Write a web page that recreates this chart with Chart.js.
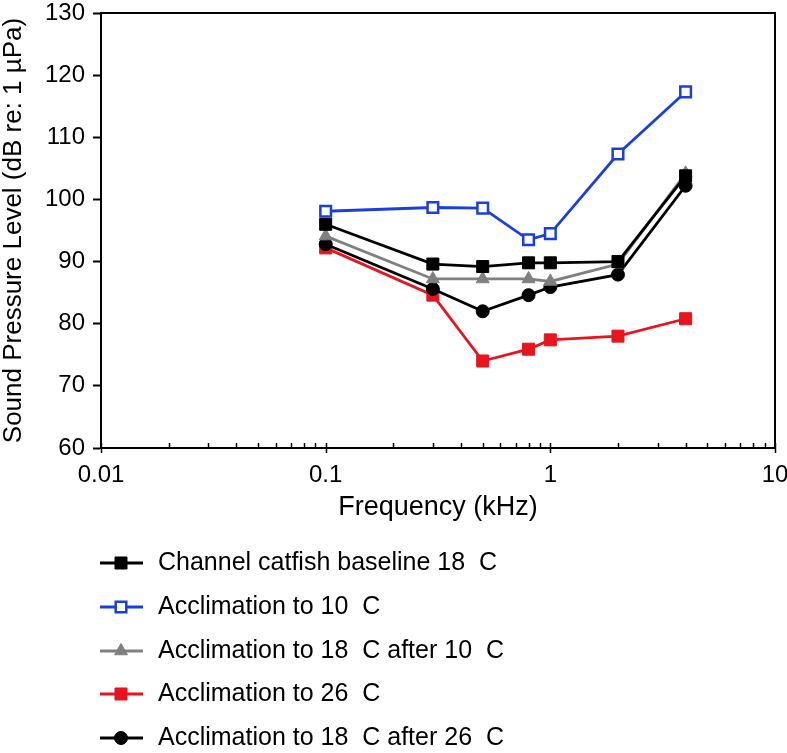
<!DOCTYPE html>
<html>
<head>
<meta charset="utf-8">
<script src="https://cdn.jsdelivr.net/npm/chart.js@4/dist/chart.umd.min.js"></script>
<style>
  html, body { margin: 0; padding: 0; background: #fff; }
  #wrap { width: 787px; height: 753px; }
</style>
</head>
<body>
<div id="wrap"><canvas id="chart"></canvas></div>
<script>
// frequencies (kHz)
const freqs = [0.1, 0.3, 0.5, 0.8, 1, 2, 4];

// sound pressure level thresholds (dB re: 1 uPa)
const baseline18 = [96.0, 89.6, 89.2, 89.8, 89.8, 90.0, 103.8];
const accl10 = [98.1, 98.7, 98.6, 93.5, 94.5, 107.3, 117.3];
const accl18after10 = [94.1, 87.2, 87.2, 87.2, 86.8, 89.6, 104.2];
const accl26 = [92.2, 84.6, 74.0, 75.9, 77.4, 78.0, 80.8];
const accl18after26 = [92.8, 85.6, 82.0, 84.6, 85.9, 87.9, 102.2];

const seriesNames = [
  'Channel catfish baseline 18  C',
  'Acclimation to 10  C',
  'Acclimation to 18  C after 10  C',
  'Acclimation to 26  C',
  'Acclimation to 18  C after 26  C'
];

const xLabelTicks = [0.01, 0.1, 1, 10];
const yTicks = [60, 70, 80, 90, 100, 110, 120, 130];

// minor ticks on the log axis: 2..9 in each decade
const xTickValues = [];
for (let e = -2; e <= 0; e++) {
  for (let m = 1; m <= 9; m++) {
    xTickValues.push(parseFloat((m * Math.pow(10, e)).toPrecision(3)));
  }
}
xTickValues.push(10);

const FONT = 'Liberation Sans, Arial, Helvetica, sans-serif';

function pts(vals) {
  return freqs.map((f, i) => ({ x: f, y: vals[i] }));
}

const datasets = [
  {
    label: seriesNames[0], data: pts(baseline18),
    borderColor: '#000', backgroundColor: '#000',
    pointStyle: 'rect', pointRadius: 8.5, borderWidth: 2.8, pointBorderWidth: 1,
    order: 1
  },
  {
    label: seriesNames[1], data: pts(accl10),
    borderColor: '#1a3fe0', backgroundColor: '#fff',
    pointStyle: 'rect', pointRadius: 7.5, borderWidth: 2.8, pointBorderWidth: 2.5,
    order: 0
  },
  {
    label: seriesNames[2], data: pts(accl18after10),
    borderColor: '#808080', backgroundColor: '#808080',
    pointStyle: 'triangle', pointRadius: 7.5, borderWidth: 2.8, pointBorderWidth: 1,
    order: 2
  },
  {
    label: seriesNames[3], data: pts(accl26),
    borderColor: '#e8141e', backgroundColor: '#e8141e',
    pointStyle: 'rect', pointRadius: 8.5, borderWidth: 2.8, pointBorderWidth: 1,
    order: 4
  },
  {
    label: seriesNames[4], data: pts(accl18after26),
    borderColor: '#000', backgroundColor: '#000',
    pointStyle: 'circle', pointRadius: 6.5, borderWidth: 2.8, pointBorderWidth: 1,
    order: 3
  }
];

// frame, inward log ticks and the stacked legend under the axis
const extras = {
  id: 'extras',
  afterDraw(chart) {
    const ctx = chart.ctx;
    const a = chart.chartArea;
    const xs = chart.scales.x;
    ctx.save();
    ctx.strokeStyle = '#000';
    ctx.lineWidth = 2;
    ctx.beginPath();
    ctx.moveTo(a.left, a.top);
    ctx.lineTo(a.right, a.top);
    ctx.lineTo(a.right, a.bottom);
    ctx.stroke();

    ctx.lineWidth = 1.5;
    xTickValues.forEach(v => {
      const px = Math.round(xs.getPixelForValue(v)) + 0.5;
      const major = xLabelTicks.includes(v);
      ctx.beginPath();
      ctx.moveTo(px, a.bottom - 5);
      ctx.lineTo(px, major ? a.bottom + 5 : a.bottom);
      ctx.stroke();
    });

    // legend
    const rowY = [563, 607, 651, 694, 738];
    const lx0 = 100, lx1 = 143, mx = 121, tx = 158;
    ctx.font = '25px ' + FONT;
    ctx.textBaseline = 'middle';
    ctx.textAlign = 'left';
    chart.data.datasets.forEach((ds, i) => {
      const y = rowY[i];
      ctx.strokeStyle = ds.borderColor;
      ctx.lineWidth = ds.borderWidth;
      ctx.beginPath();
      ctx.moveTo(lx0, y);
      ctx.lineTo(lx1, y);
      ctx.stroke();
      ctx.fillStyle = ds.backgroundColor;
      ctx.strokeStyle = ds.borderColor;
      ctx.lineWidth = ds.pointBorderWidth;
      Chart.helpers.drawPoint(ctx, {
        pointStyle: ds.pointStyle, radius: ds.pointRadius, rotation: 0,
        borderWidth: ds.pointBorderWidth
      }, mx, y);
      ctx.fillStyle = '#000';
      ctx.fillText(ds.label, tx, y);
    });
    ctx.restore();
  }
};

new Chart(document.getElementById('chart'), {
  type: 'line',
  data: { datasets: datasets },
  options: {
    responsive: true,
    maintainAspectRatio: false,
    animation: false,
    layout: { padding: { top: 13, right: 12, left: 0, bottom: 0 } },
    elements: { line: { tension: 0 } },
    plugins: { legend: { display: false }, tooltip: { enabled: false } },
    scales: {
      x: {
        type: 'logarithmic',
        min: 0.01, max: 10,
        afterBuildTicks: scale => {
          scale.ticks = xTickValues.map(v => ({ value: v }));
        },
        afterFit: scale => {
          scale.height = 305;
          scale.paddingLeft = 0;
          scale.paddingRight = 0;
        },
        grid: { display: false, drawTicks: false },
        border: { display: true, color: '#000', width: 2 },
        ticks: {
          autoSkip: false, maxRotation: 0, padding: 13,
          color: '#000', font: { family: FONT, size: 24 },
          callback: v => xLabelTicks.includes(v) ? String(v) : ''
        },
        title: {
          display: true, text: 'Frequency (kHz)', color: '#000',
          font: { family: FONT, size: 27 },
          padding: { top: 0, bottom: 229 }
        }
      },
      y: {
        min: 60, max: 130,
        afterBuildTicks: scale => {
          scale.ticks = yTicks.map(v => ({ value: v }));
        },
        afterFit: scale => {
          scale.width = 101;
          scale.paddingTop = 0;
          scale.paddingBottom = 0;
        },
        grid: { drawOnChartArea: false, drawTicks: true, tickLength: 8, tickWidth: 2, tickColor: '#000' },
        border: { display: true, color: '#000', width: 2 },
        ticks: {
          padding: 8, color: '#000', font: { family: FONT, size: 24 }
        },
        title: {
          display: true, text: 'Sound Pressure Level (dB re: 1 µPa)', color: '#000',
          font: { family: FONT, size: 26, lineHeight: 1.1 },
          padding: { top: 0, bottom: 0 }
        }
      }
    }
  },
  plugins: [extras]
});
</script>
</body>
</html>
